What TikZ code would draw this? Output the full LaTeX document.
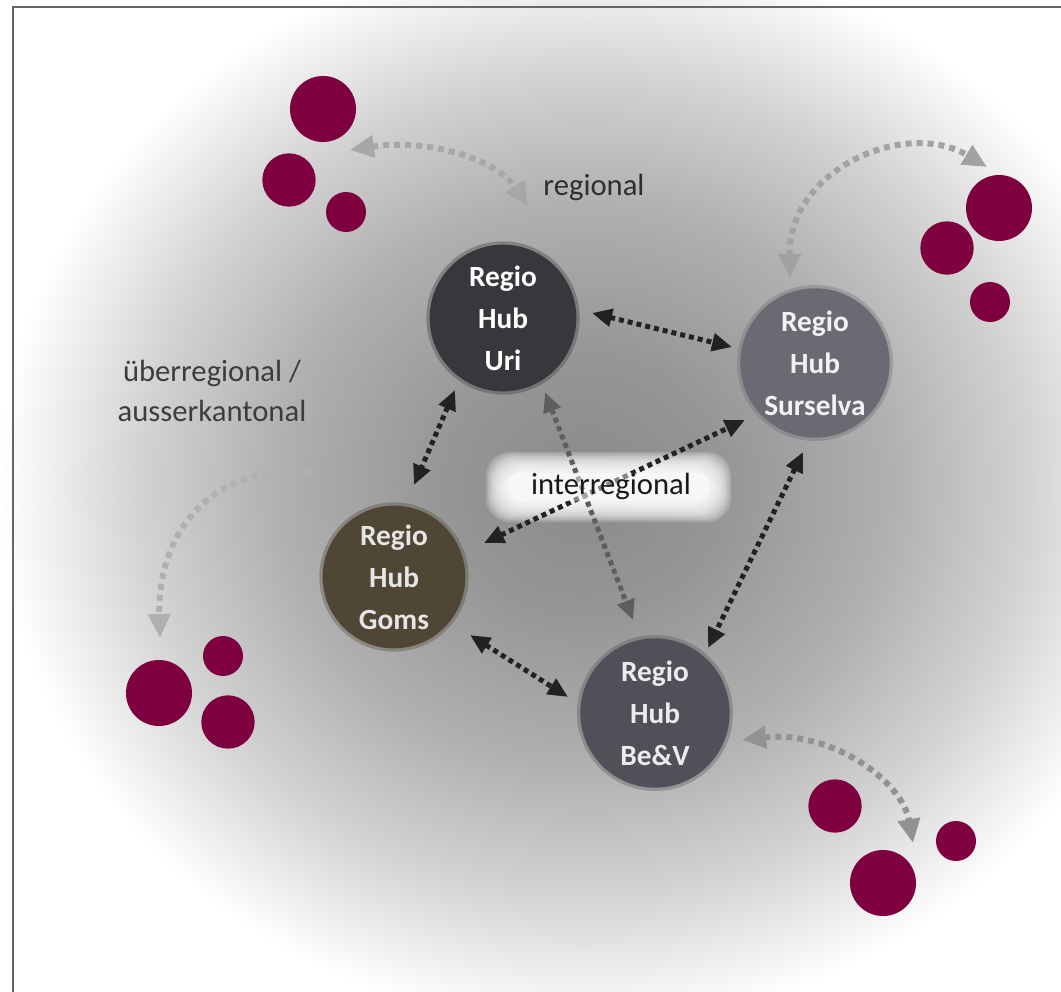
\documentclass[tikz,border=0pt]{standalone}
\usepackage{fontspec}
\setmainfont{Carlito}
\usetikzlibrary{arrows.meta,calc}
\definecolor{maroon}{RGB}{127,0,63}
\definecolor{hz0}{HTML}{8A8A8A}
\definecolor{hz1}{HTML}{969696}
\definecolor{hz2}{HTML}{B0B0B0}
\definecolor{hz3}{HTML}{D3D3D3}
\definecolor{uric}{HTML}{38373C}
\definecolor{surc}{HTML}{6A6A72}
\definecolor{gomc}{HTML}{4F4635}
\definecolor{bevc}{HTML}{505158}
\definecolor{darkarrow}{HTML}{222222}
\definecolor{midarrow}{HTML}{5E5E5E}
\definecolor{lightarrow}{HTML}{A2A2A2}
\definecolor{framec}{HTML}{666666}
\pgfdeclareradialshading{haze}{\pgfpoint{0bp}{0bp}}{color(0bp)=(hz0); color(6bp)=(hz1); color(13bp)=(hz2); color(19bp)=(hz3); color(25bp)=(white); color(50bp)=(white)}
\tikzset{
  hub/.style={circle, inner sep=0pt, minimum size=112pt, align=center,
    font=\bfseries\fontsize{22pt}{31.5pt}\selectfont, text=white},
  halo/.style={circle, inner sep=0pt, fill opacity=0.35},
  bigdot/.style={circle, fill=maroon, inner sep=0pt, minimum size=49.5pt},
  middot/.style={circle, fill=maroon, inner sep=0pt, minimum size=40pt},
  smalldot/.style={circle, fill=maroon, inner sep=0pt, minimum size=30pt},
  blacklink/.style={draw=darkarrow, line width=3.75pt, dash pattern=on 3.75pt off 3pt,
    {Triangle[length=15pt,width=13pt]}-{Triangle[length=15pt,width=13pt]}},
  greylink/.style={draw=lightarrow, line width=4.5pt, dash pattern=on 4.5pt off 3.75pt,
    {Triangle[length=18pt,width=16pt]}-{Triangle[length=18pt,width=16pt]}},
  greyone/.style={draw=lightarrow, line width=4.5pt, dash pattern=on 4.5pt off 3.75pt,
    -{Triangle[length=18pt,width=16pt]}},
  lbl/.style={font=\fontsize{23pt}{30pt}\selectfont, align=center},
}
\begin{document}
\begin{tikzpicture}[x=0.75pt,y=-0.75pt]
\useasboundingbox (0,0) rectangle (1061,992);
\fill[white] (0,0) rectangle (1061,992);
% haze
\shade[shading=haze] (585,485) ellipse [x radius=440pt, y radius=405pt];

% interregional glow (under arrows)
\foreach \s in {18,16,...,0}
  \fill[white, opacity=0.2, rounded corners=18pt] (504-\s,470-\s) rectangle (713+\s,504+\s);

% maroon dot groups
\node[bigdot]   (tla) at (323,109) {};
\node[middot]   (tlb) at (289,180) {};
\node[smalldot] (tlc) at (346,212) {};
\node[bigdot]   (tra) at (999,208) {};
\node[middot]   (trb) at (947,248) {};
\node[smalldot] (trc) at (990,302) {};
\node[bigdot]   (bla) at (159,693) {};
\node[smalldot] (blb) at (223,656) {};
\node[middot]   (blc) at (228,722) {};
\node[middot]   (bra) at (835,806) {};
\node[bigdot]   (brb) at (883,883) {};
\node[smalldot] (brc) at (956,841) {};

% hub halos (soft edges)
\node[halo, fill=uric, minimum size=115pt] (urih) at (503,318) {};
\node[halo, fill=surc, minimum size=117pt] (surh) at (815,363) {};
\node[halo, fill=gomc, minimum size=112pt] (gomh) at (394,577) {};
\node[halo, fill=bevc, minimum size=117pt] (bevh) at (655,713) {};
% hubs
\node[hub, fill=uric, minimum size=110pt] (uri) at (503,318) {Regio\\Hub\\Uri};
\node[hub, fill=surc, minimum size=112pt, text=white!95!black] (sur) at (815,363) {Regio\\Hub\\Surselva};
\node[hub, fill=gomc, minimum size=107pt, text=white!90!black] (gom) at (394,577) {Regio\\Hub\\Goms};
\node[hub, fill=bevc, minimum size=112pt, text=white!92!black] (bev) at (655,713) {Regio\\Hub\\Be\&V};

% arrow end points
\coordinate (uS) at (592,313); \coordinate (sU) at (732,347);
\coordinate (uG) at (455,390); \coordinate (gU) at (414,485);
\coordinate (gS) at (484,543); \coordinate (sG) at (745,420);
\coordinate (uB) at (545,392); \coordinate (bU) at (633,620);
\coordinate (gB) at (470,635); \coordinate (bG) at (568,697);
\coordinate (sB) at (803,452); \coordinate (bS) at (708,648);

\draw[blacklink] (uS) -- (sU);
\draw[blacklink] (uG) -- (gU);
\draw[blacklink] (gS) -- (sG);
\draw[blacklink, draw=midarrow, fill=midarrow] (uB) -- (bU);
\draw[blacklink] (gB) -- (bG);
\draw[blacklink] (sB) -- (bS);

% regional / external arrows
\coordinate (tl1) at (350,150); \coordinate (tl2) at (528,206);
\coordinate (tr1) at (790,278); \coordinate (tr2) at (987,167);
\coordinate (lf1) at (312,473); \coordinate (lf2) at (160,638);
\coordinate (br1) at (742,740); \coordinate (br2) at (913,843);
\draw[greylink, draw=lightarrow!95!white] (tl1) .. controls (430,138) and (497,160) .. (tl2);
\draw[greylink] (tr1) .. controls (788,170) and (905,118) .. (tr2);
\draw[greyone, draw=lightarrow!85!white] (lf1) .. controls (205,462) and (157,540) .. (lf2);
\draw[greylink, draw=lightarrow!90!black] (br1) .. controls (830,730) and (902,780) .. (br2);

% overlay of glow on arrows, then label
\fill[white, opacity=0.45, rounded corners=8pt] (508,473) rectangle (709,501);
\node[lbl, text=black!90] (inter) at (611,486) {interregional};
\node[lbl, text=black!82] (reg) at (594,187) {regional};
\node[lbl, text=black!76] (ueber) at (212,391) {überregional /\\ausserkantonal};

% frame
\draw[framec, line width=1.5pt] (12.5,992) -- (12.5,6.5) -- (1061,6.5);
\end{tikzpicture}
\end{document}
